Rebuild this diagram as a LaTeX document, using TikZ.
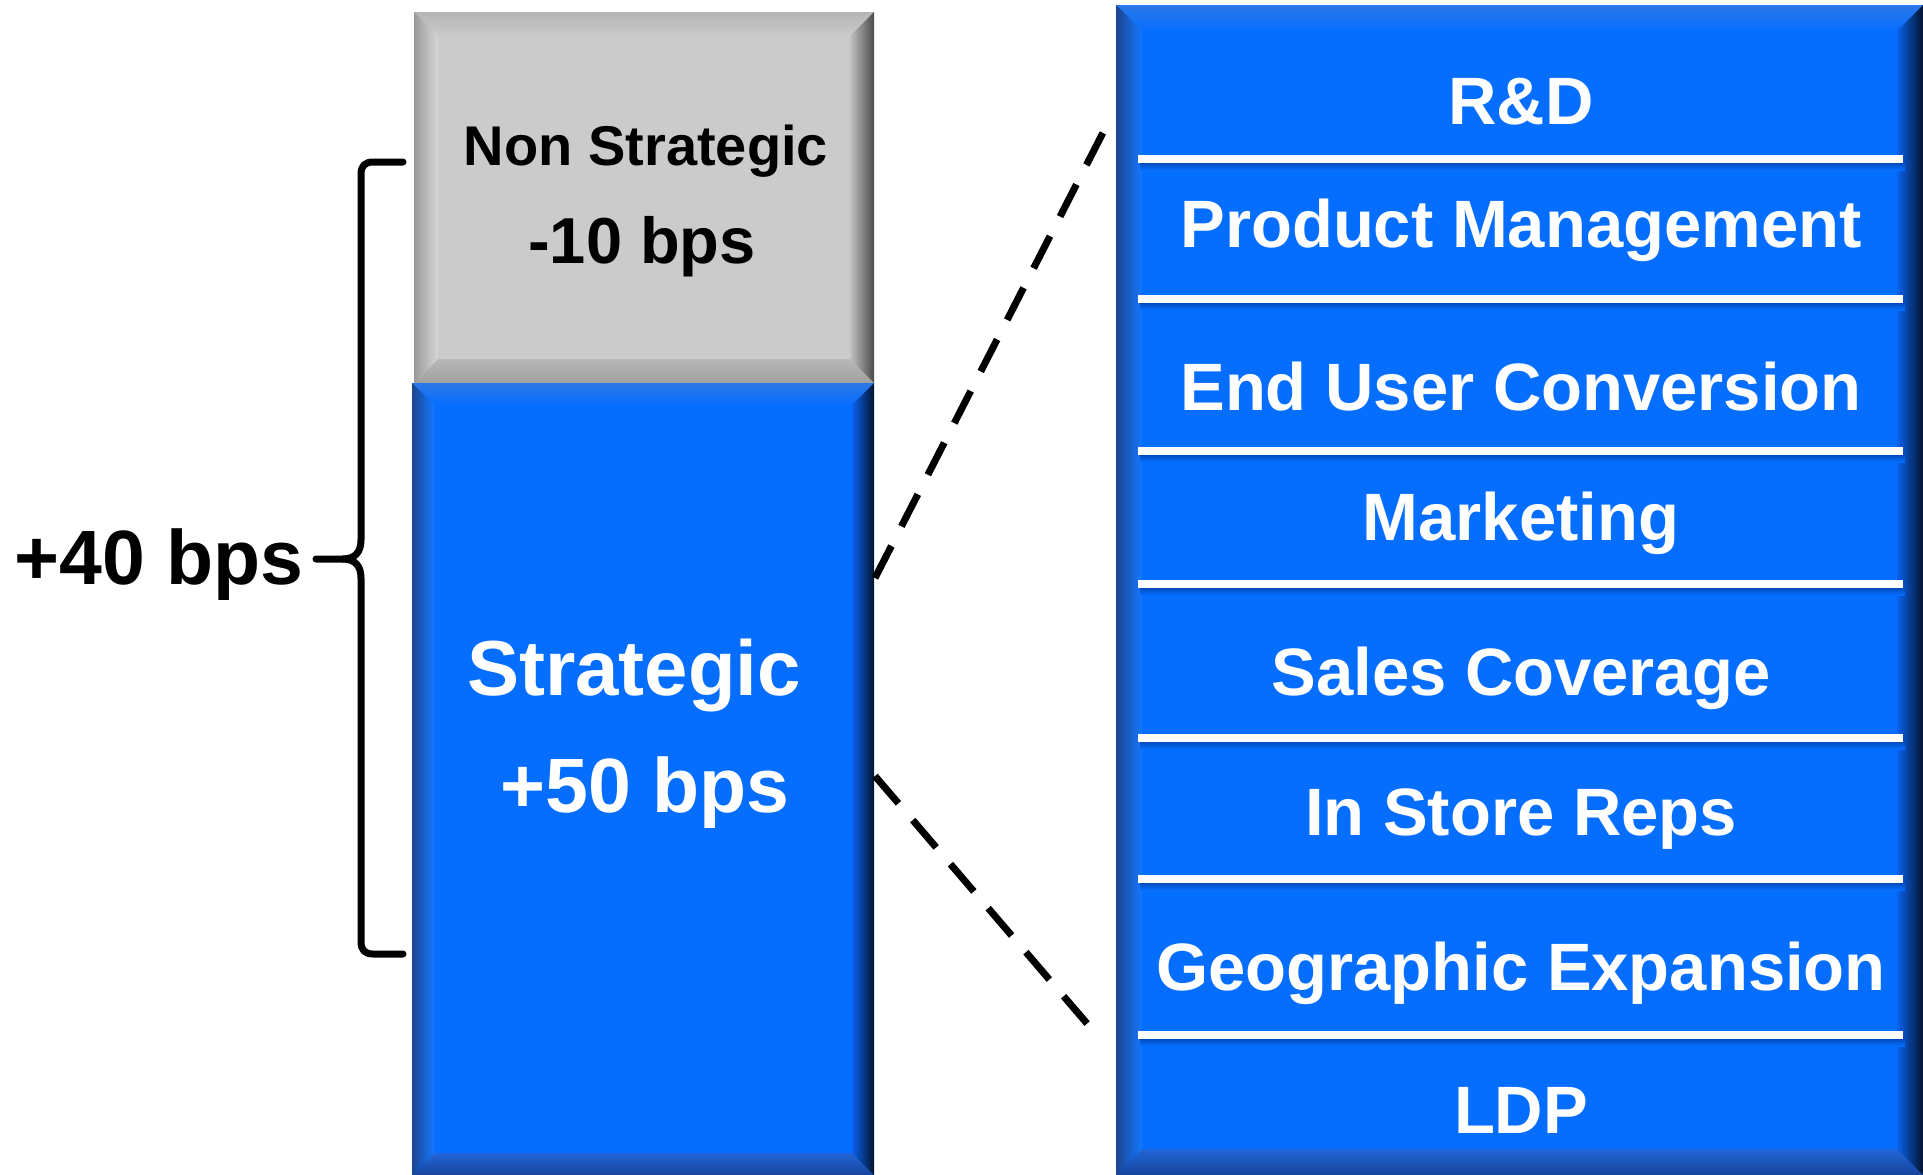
\documentclass[tikz,border=0pt]{standalone}
\usepackage{fontspec}
\setmainfont{Liberation Sans}
\usetikzlibrary{calc}

% face and bevel colours
\definecolor{blface}{HTML}{066EFF}
\definecolor{bltA}{HTML}{2C78E6}
\definecolor{bltB}{HTML}{58ACFF}
\definecolor{bllA}{HTML}{1C4590}
\definecolor{bllB}{HTML}{1478FF}
\definecolor{blrA}{HTML}{0A62EE}
\definecolor{blrB}{HTML}{03132C}
\definecolor{blbA}{HTML}{2266D8}
\definecolor{blbB}{HTML}{16449A}
\definecolor{grface}{HTML}{CBCBCB}
\definecolor{grtA}{HTML}{B4B4B4}
\definecolor{grtB}{HTML}{F0F0F0}
\definecolor{grlA}{HTML}{9A9A9A}
\definecolor{grlB}{HTML}{D6D6D6}
\definecolor{grrA}{HTML}{C2C2C2}
\definecolor{grrB}{HTML}{4A4A4A}
\definecolor{grbA}{HTML}{B8B8B8}
\definecolor{grbB}{HTML}{A0A0A0}
\definecolor{sepshadow}{HTML}{0348B4}

% bevelled box: x1, y1, x2, y2, colour prefix, bevel width
\newcommand\bevelbox[6]{%
  \fill[#5face] (#1,#2) rectangle (#3,#4);
  \shade[top color=#5tA, middle color=#5tB, bottom color=#5face]
    (#1,#2) -- (#3,#2) -- (#3-#6,#2+#6) -- (#1+#6,#2+#6) -- cycle;
  \shade[top color=#5bA, bottom color=#5bB]
    (#1,#4) -- (#3,#4) -- (#3-#6,#4-#6) -- (#1+#6,#4-#6) -- cycle;
  \shade[left color=#5lA, right color=#5lB]
    (#1,#2) -- (#1+#6,#2+#6) -- (#1+#6,#4-#6) -- (#1,#4) -- cycle;
  \shade[left color=#5rA, right color=#5rB]
    (#3,#2) -- (#3-#6,#2+#6) -- (#3-#6,#4-#6) -- (#3,#4) -- cycle;
}

% white divider with a soft shadow under it
\newcommand\divider[1]{%
  \shade[top color=sepshadow, bottom color=blface] (1140,#1+3) rectangle (1905,#1+11);
  \fill[white] (1138,#1-4) rectangle (1903,#1+4);
}

\tikzset{
  lbl/.style={inner sep=0pt, anchor=base, font=\bfseries},
  whitelbl/.style={lbl, text=white, font=\bfseries\fontsize{67}{80}\selectfont},
  dashline/.style={black, line width=7pt, dash pattern=on 36pt off 22pt},
  brace/.style={black, line width=7pt, line cap=round, line join=round}
}

\begin{document}
\begin{tikzpicture}[x=1pt, y=-1pt]
\useasboundingbox (0,0) rectangle (1923,1175);
\fill[white] (0,0) rectangle (1923,1175);

% stacked bar
\bevelbox{414}{12}{874}{383}{gr}{24}
\bevelbox{412}{383}{874}{1175}{bl}{22}

% breakdown column
\bevelbox{1116}{5}{1923}{1175}{bl}{26}
\foreach \yy in {159,299,451,584,738,879,1035} {\divider{\yy}}

% bar labels
\node[lbl, font=\bfseries\fontsize{56}{66}\selectfont] (nonstrat) at (646,165) {Non Strategic};
\node[lbl, font=\bfseries\fontsize{65}{76}\selectfont] (nonval) at (642,263) {-10 bps};
\node[lbl, text=white, font=\bfseries\fontsize{78}{90}\selectfont] (strat) at (634,695) {Strategic};
\node[lbl, text=white, font=\bfseries\fontsize{77}{90}\selectfont] (stratval) at (645,812) {+50 bps};

% total label and brace
\node[lbl, anchor=base east, font=\bfseries\fontsize{77}{90}\selectfont] (total) at (304,584) {+40 bps};
\coordinate (btop) at (403,162);
\coordinate (bbot) at (403,954);
\coordinate (btip) at (316,559);
\draw[brace] (btop) -- (373,162) .. controls (365,162) and (361,166) .. (361,174)
  -- (361,540) .. controls (361,552) and (355,559) .. (343,559) -- (btip);
\draw[brace] (343,559) .. controls (355,559) and (361,566) .. (361,578)
  -- (361,942) .. controls (361,950) and (365,954) .. (373,954) -- (bbot);

% breakdown labels
\node[whitelbl] (rd)   at (1521,124) {R\&D};
\node[whitelbl] (pm)   at (1521,247) {Product Management};
\node[whitelbl] (euc)  at (1521,410) {End User Conversion};
\node[whitelbl] (mkt)  at (1521,540) {Marketing};
\node[whitelbl] (sc)   at (1521,695) {Sales Coverage};
\node[whitelbl] (isr)  at (1521,835) {In Store Reps};
\node[whitelbl] (geo)  at (1521,990) {Geographic Expansion};
\node[whitelbl] (ldp)  at (1521,1133) {LDP};

% zoom lines from the strategic bar to the breakdown column
\coordinate (zoomUa) at (875,578);
\coordinate (zoomUb) at (1111,117);
\coordinate (zoomLa) at (875,776);
\coordinate (zoomLb) at (1090,1027);
\draw[dashline] (zoomUa) -- (zoomUb);
\draw[dashline] (zoomLa) -- (zoomLb);
\end{tikzpicture}
\end{document}
